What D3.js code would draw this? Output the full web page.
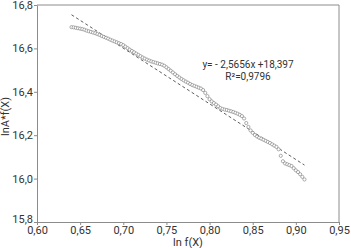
<!DOCTYPE html>
<html>
<head>
<meta charset="utf-8">
<script src="https://cdn.jsdelivr.net/npm/d3@7"></script>
<style>
  html, body { margin: 0; padding: 0; background: #fff; }
  #chart { width: 351px; height: 248px; }
  text { font-family: "Liberation Sans Narrow", "Roboto", "DejaVu Sans Condensed", sans-serif; fill: #333; }
</style>
</head>
<body>
<div id="chart"></div>
<script>
//### DATA ###
const lnF = [
  0.6400, 0.6425, 0.6450, 0.6475, 0.6500, 0.6525, 0.6550, 0.6575, 0.6600, 0.6625,
  0.6650, 0.6675, 0.6700, 0.6725, 0.6750, 0.6775, 0.6800, 0.6825, 0.6850, 0.6875,
  0.6900, 0.6925, 0.6950, 0.6975, 0.7000, 0.7025, 0.7050, 0.7075, 0.7100, 0.7125,
  0.7150, 0.7175, 0.7200, 0.7225, 0.7250, 0.7275, 0.7300, 0.7325, 0.7350, 0.7375,
  0.7400, 0.7425, 0.7450, 0.7475, 0.7500, 0.7525, 0.7550, 0.7575, 0.7600, 0.7625,
  0.7650, 0.7675, 0.7700, 0.7725, 0.7750, 0.7775, 0.7800, 0.7825, 0.7850, 0.7875,
  0.7900, 0.7925, 0.7950, 0.7975, 0.8000, 0.8025, 0.8050, 0.8075, 0.8100, 0.8125,
  0.8150, 0.8175, 0.8200, 0.8225, 0.8250, 0.8275, 0.8300, 0.8325, 0.8350, 0.8375,
  0.8400, 0.8425, 0.8450, 0.8475, 0.8500, 0.8525, 0.8550, 0.8575, 0.8600, 0.8625,
  0.8650, 0.8675, 0.8700, 0.8725, 0.8750, 0.8775, 0.8800, 0.8825, 0.8850, 0.8875,
  0.8900, 0.8925, 0.8950, 0.8975, 0.9000, 0.9025, 0.9050, 0.9075, 0.9100
];
const lnAF = [
  16.698, 16.697, 16.695, 16.693, 16.691, 16.689, 16.686, 16.682, 16.679, 16.676,
  16.673, 16.670, 16.666, 16.662, 16.657, 16.653, 16.649, 16.645, 16.640, 16.636,
  16.632, 16.628, 16.624, 16.620, 16.615, 16.608, 16.601, 16.594, 16.588, 16.582,
  16.576, 16.570, 16.564, 16.558, 16.553, 16.548, 16.544, 16.540, 16.537, 16.534,
  16.531, 16.528, 16.525, 16.520, 16.513, 16.505, 16.497, 16.489, 16.481, 16.473,
  16.466, 16.459, 16.453, 16.447, 16.442, 16.436, 16.431, 16.427, 16.423, 16.419,
  16.415, 16.408, 16.395, 16.380, 16.366, 16.356, 16.348, 16.341, 16.333, 16.325,
  16.321, 16.318, 16.316, 16.313, 16.310, 16.307, 16.303, 16.299, 16.294, 16.288,
  16.277, 16.256, 16.238, 16.222, 16.211, 16.201, 16.194, 16.188, 16.184, 16.179,
  16.174, 16.169, 16.164, 16.158, 16.152, 16.146, 16.135, 16.105, 16.080, 16.070,
  16.066, 16.062, 16.058, 16.048, 16.038, 16.030, 16.020, 16.008, 15.996
];

//>>> Trend line y = slope * x + intercept
const slope = -2.5656;
const intercept = 18.397;
const trendRange = [0.64, 0.91];

const xTicks = [0.60, 0.65, 0.70, 0.75, 0.80, 0.85, 0.90, 0.95];
const yTicks = [15.8, 16.0, 16.2, 16.4, 16.6, 16.8];

const equationText = 'y= - 2,5656x +18,397';
const r2Text = 'R²=0,9796';

//### CHART ###
const margin = { top: 5, right: 12, bottom: 26, left: 37 };
const width = 351 - margin.left - margin.right;
const height = 248 - margin.top - margin.bottom;
const axisGray = '#8c8c8c';
const comma = v => v.toFixed(2).replace('.', ',');
const comma1 = v => v.toFixed(1).replace('.', ',');

const svg = d3.select('#chart').append('svg')
  .attr('width', 351)
  .attr('height', 248)
  .append('g')
  .attr('transform', `translate(${margin.left},${margin.top})`);

const x = d3.scaleLinear().domain([0.60, 0.95]).range([0, width]);
const y = d3.scaleLinear().domain([15.8, 16.8]).range([height, 0]);

//_____ FRAME (top + right) _____
svg.append('path')
  .attr('d', `M0,0H${width}V${height}`)
  .attr('fill', 'none')
  .attr('stroke', axisGray)
  .attr('stroke-width', 1);

//_____ AXES _____
const xAxis = svg.append('g')
  .attr('transform', `translate(0,${height})`)
  .call(d3.axisBottom(x).tickValues(xTicks).tickFormat(comma).tickSize(3).tickSizeOuter(0));

const yAxis = svg.append('g')
  .call(d3.axisLeft(y).tickValues(yTicks).tickFormat(comma1).tickSize(3).tickSizeOuter(0));

[xAxis, yAxis].forEach(a => {
  a.select('.domain').attr('stroke', axisGray);
  a.selectAll('.tick line').attr('stroke', axisGray);
  a.selectAll('.tick text').style('font-size', '11px').attr('fill', '#333');
});
xAxis.selectAll('.tick text').attr('dy', '0.55em');
yAxis.selectAll('.tick text').attr('x', -4);
//--- lowest y label sits a bit above the corner, as in the original
yAxis.selectAll('.tick text').filter(d => d === 15.8).attr('dy', '0.05em');

//_____ AXIS TITLES _____
svg.append('text')
  .attr('x', width / 2)
  .attr('y', height + 24)
  .attr('text-anchor', 'middle')
  .style('font-size', '11px')
  .text('ln f(X)');

svg.append('text')
  .attr('transform', `translate(${-28},${height / 2 + 3}) rotate(-90)`)
  .attr('text-anchor', 'middle')
  .style('font-size', '11px')
  .text('lnA*f(X)');

//_____ TREND LINE _____
svg.append('line')
  .attr('x1', x(trendRange[0]))
  .attr('y1', y(slope * trendRange[0] + intercept))
  .attr('x2', x(trendRange[1]))
  .attr('y2', y(slope * trendRange[1] + intercept))
  .attr('stroke', '#333')
  .attr('stroke-width', 0.8)
  .attr('stroke-dasharray', '3,2.5');

//_____ POINTS _____
svg.selectAll('.pt')
  .data(lnF.map((v, i) => [v, lnAF[i]]))
  .enter().append('circle')
  .attr('class', 'pt')
  .attr('cx', d => x(d[0]))
  .attr('cy', d => y(d[1]))
  .attr('r', 1.6)
  .attr('fill', '#fff')
  .attr('stroke', '#777')
  .attr('stroke-width', 0.6);

//_____ EQUATION _____
svg.append('text')
  .attr('x', 211)
  .attr('y', 63)
  .attr('text-anchor', 'middle')
  .style('font-size', '10px')
  .text(equationText);

svg.append('text')
  .attr('x', 211)
  .attr('y', 75)
  .attr('text-anchor', 'middle')
  .style('font-size', '10px')
  .text(r2Text);
</script>
</body>
</html>
